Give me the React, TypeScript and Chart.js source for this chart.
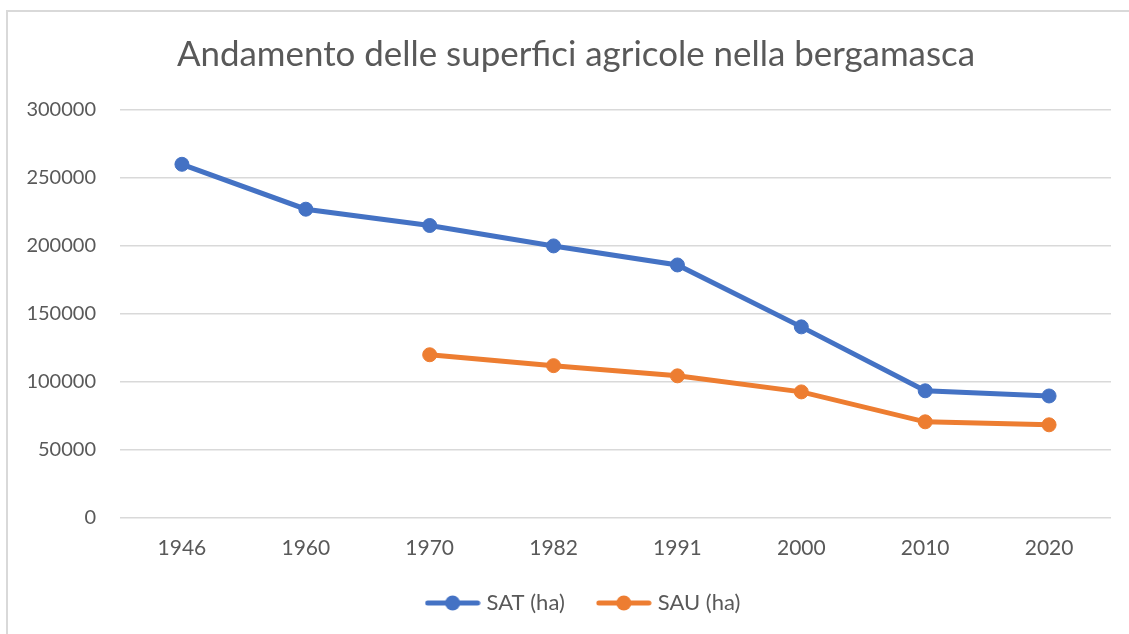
import { useEffect, useRef } from "react";
import { Chart, registerables } from "chart.js";
Chart.register(...registerables);

const chartTitle = "Andamento delle superfici agricole nella bergamasca";
const years = ["1946", "1960", "1970", "1982", "1991", "2000", "2010", "2020"];
const satValues = [260000, 227000, 215000, 200000, 186000, 140500, 93500, 89700];
const sauValues = [null, null, 120000, 112000, 104500, 92700, 70700, 68500];
const seriesNames = ["SAT (ha)", "SAU (ha)"];
const seriesColors = ["#4472C4", "#ED7D31"];
const yMin = 0;
const yMax = 300000;
const yStep = 50000;

const FONT = "Lato, 'Open Sans', sans-serif";
const TEXT = "#595959";
const GRID = "#d9d9d9";

function legendIcon(color: string) {
  const c = document.createElement("canvas");
  c.width = 56;
  c.height = 18;
  const ctx = c.getContext("2d")!;
  ctx.strokeStyle = color;
  ctx.lineWidth = 5;
  ctx.lineCap = "round";
  ctx.beginPath();
  ctx.moveTo(3, 9);
  ctx.lineTo(53, 9);
  ctx.stroke();
  ctx.fillStyle = color;
  ctx.beginPath();
  ctx.arc(28, 9, 7.5, 0, Math.PI * 2);
  ctx.fill();
  return c;
}

const shiftBoxes = {
  id: "shiftBoxes",
  afterLayout(chart: any) {
    if (chart.legend) {
      chart.legend.left += 17;
      chart.legend.right += 17;
    }
    if (chart.titleBlock) {
      chart.titleBlock.left += 8;
      chart.titleBlock.right += 8;
    }
  },
};

export default function App() {
  const ref = useRef<HTMLCanvasElement | null>(null);
  useEffect(() => {
    if (!ref.current) return;
    const icons = seriesColors.map(legendIcon);
    const chart = new Chart(ref.current, {
      type: "line",
      data: {
        labels: years,
        datasets: [satValues, sauValues].map((vals, i) => ({
          label: seriesNames[i],
          data: vals,
          borderColor: seriesColors[i],
          backgroundColor: seriesColors[i],
          borderWidth: 5,
          pointStyle: "circle",
          pointRadius: 7,
          pointBorderWidth: 1,
          pointBackgroundColor: seriesColors[i],
          pointBorderColor: seriesColors[i],
          tension: 0,
          spanGaps: false,
        })) as any,
      },
      plugins: [shiftBoxes],
      options: {
        animation: false,
        responsive: false,
        layout: { padding: { left: 25, right: 18, top: 0, bottom: 10 } },
        plugins: {
          title: {
            display: true,
            text: chartTitle,
            color: TEXT,
            font: { family: FONT, size: 34.9, weight: "normal" as any },
            padding: { top: 34, bottom: 34 },
          },
          legend: {
            position: "bottom",
            labels: {
              color: TEXT,
              font: { family: FONT, size: 22 },
              usePointStyle: true,
              pointStyleWidth: 46,
              padding: 36,
              generateLabels: (ch: any) =>
                ch.data.datasets.map((ds: any, i: number) => ({
                  text: ds.label,
                  fillStyle: ds.borderColor,
                  strokeStyle: ds.borderColor,
                  fontColor: TEXT,
                  lineWidth: 0,
                  pointStyle: icons[i],
                  hidden: false,
                  datasetIndex: i,
                })),
            },
          },
          tooltip: { enabled: false },
        },
        scales: {
          x: {
            offset: true,
            grid: { display: false, drawTicks: false },
            border: { display: false },
            ticks: { color: TEXT, font: { family: FONT, size: 21 }, padding: 18 },
            afterFit: (s: any) => {
              s.height = 38;
            },
          },
          y: {
            min: yMin,
            max: yMax,
            grid: { color: GRID, lineWidth: 1.5, drawTicks: false },
            border: { display: false },
            ticks: {
              stepSize: yStep,
              color: TEXT,
              font: { family: FONT, size: 20 },
              padding: 24,
              callback: (v: any) => String(v),
            },
            afterFit: (s: any) => {
              s.width = 95;
            },
          },
        },
      } as any,
    });
    return () => chart.destroy();
  }, []);
  return (
    <div style={{ position: "fixed", left: 0, top: 0, width: 1129, height: 634, overflow: "hidden", background: "#fff" }}>
      <div style={{ position: "absolute", left: 6, top: 10, width: 1200, height: 700, border: "2px solid #d9d9d9" }} />
      <canvas ref={ref} width={1129} height={634} style={{ position: "absolute", left: 0, top: 0 }} />
    </div>
  );
}
